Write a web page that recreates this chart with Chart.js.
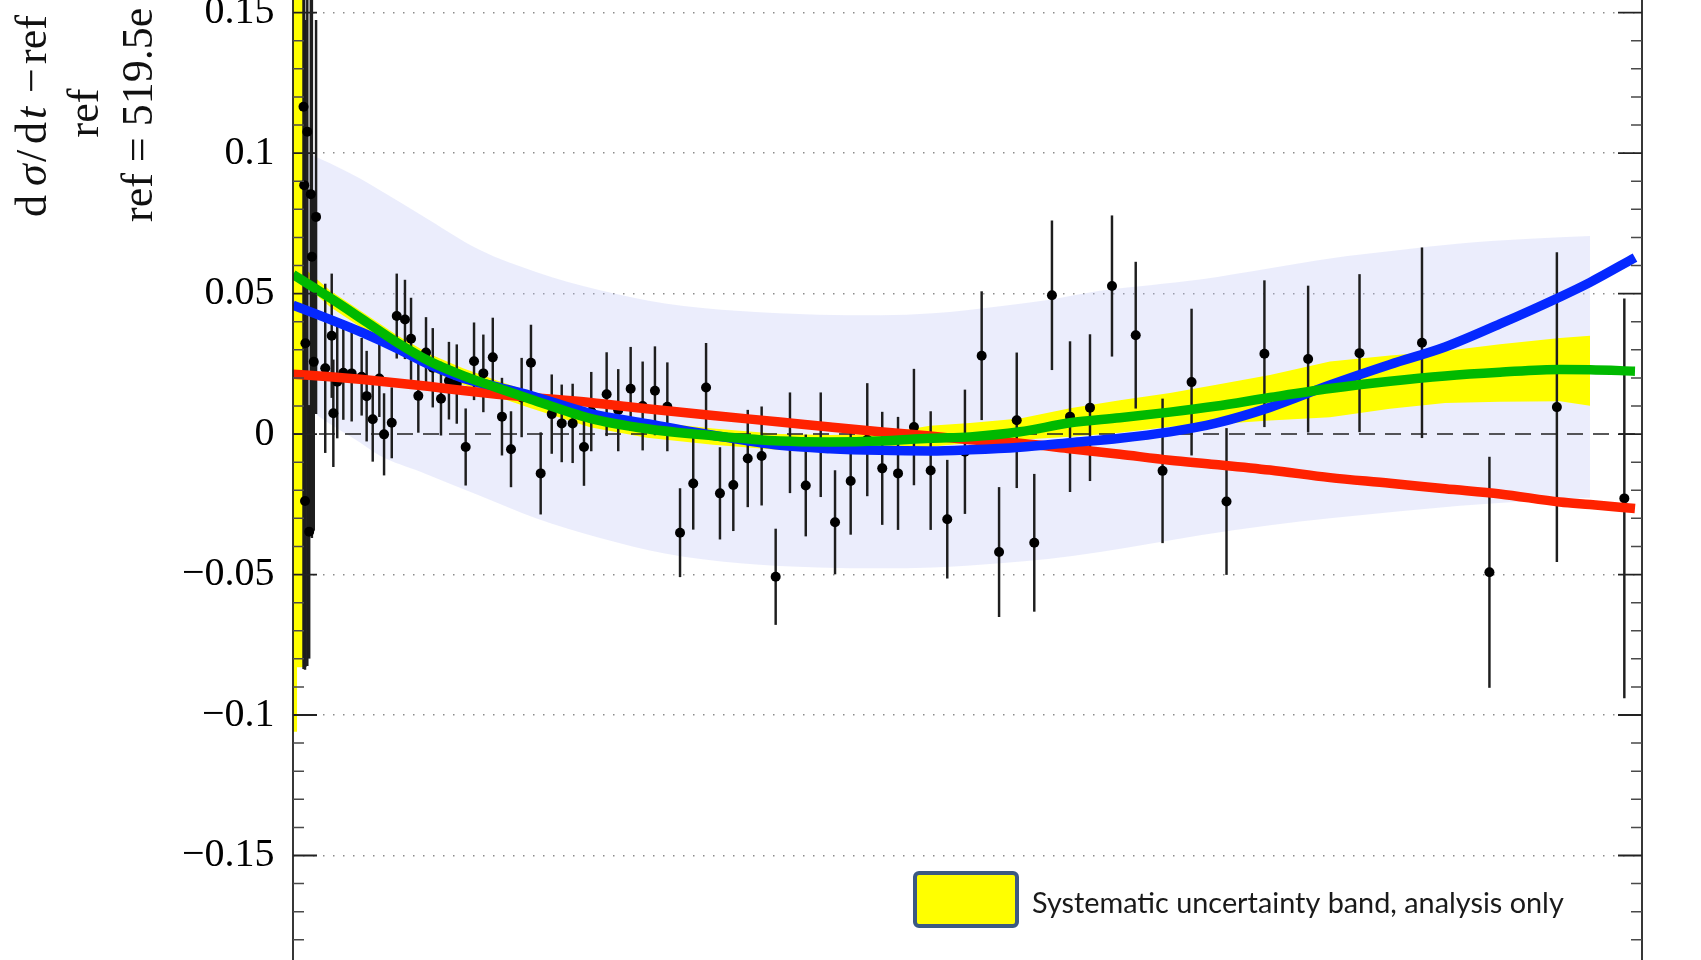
<!DOCTYPE html>
<html>
<head>
<meta charset="utf-8">
<title>dσ/dt relative to ref</title>
<script src="https://cdn.jsdelivr.net/npm/chart.js@4.4.1/dist/chart.umd.min.js"></script>
<style>
  html, body { margin: 0; padding: 0; background: #fff; overflow: hidden; }
  canvas { display: block; }
</style>
</head>
<body>
<canvas id="residuals" width="1701" height="960"></canvas>
<script>
// data points: x is position across the plotted range (0-100), y is the relative residual
const pointX = [0.78, 0.83, 0.89, 0.92, 1.06, 1.20, 1.32, 1.40, 1.54, 1.71,
  2.39, 2.87, 2.99, 3.28, 3.73, 4.35, 5.09, 5.46, 5.91, 6.40,
  6.75, 7.32, 7.69, 8.30, 8.75, 9.29, 9.86, 10.36, 10.97, 11.56,
  12.14, 12.80, 13.42, 14.11, 14.81, 15.49, 16.16, 16.95, 17.64, 18.36,
  19.18, 19.92, 20.73, 21.57, 22.11, 23.25, 24.11, 25.03, 25.92, 26.83,
  27.75, 28.69, 29.67, 30.62, 31.65, 32.64, 33.71, 34.74, 35.78, 36.84,
  38.01, 39.12, 40.18, 41.34, 42.57, 43.68, 44.85, 46.03, 47.27, 48.50,
  49.81, 51.05, 52.34, 53.65, 54.95, 56.26, 57.60, 59.08, 60.71, 62.47,
  64.46, 66.61, 69.20, 72.01, 75.25, 79.06, 83.69, 88.69, 93.69, 98.69]
const pointY = [0.1165, 0.0886, -0.0238, 0.0323, 0.1076, -0.0348, 0.0854, 0.0631, 0.0257, 0.0773,
  0.0234, 0.0350, 0.0074, 0.0186, 0.0218, 0.0216, 0.0204, 0.0135, 0.0053, 0.0198,
  -0.0001, 0.0040, 0.0420, 0.0408, 0.0339, 0.0136, 0.0290, 0.0236, 0.0126, 0.0190,
  0.0178, -0.0046, 0.0259, 0.0216, 0.0273, 0.0062, -0.0054, 0.0130, 0.0254, -0.0140,
  0.0071, 0.0038, 0.0038, -0.0046, 0.0080, 0.0142, 0.0085, 0.0161, 0.0100, 0.0154,
  0.0097, -0.0351, -0.0176, 0.0166, -0.0211, -0.0181, -0.0087, -0.0078, -0.0508, -0.0031,
  -0.0183, -0.0038, -0.0314, -0.0167, -0.0020, -0.0122, -0.0140, 0.0025, -0.0130, -0.0303,
  -0.0063, 0.0279, -0.0420, 0.0049, -0.0387, 0.0494, 0.0062, 0.0094, 0.0527, 0.0352,
  -0.0131, 0.0185, -0.0240, 0.0286, 0.0267, 0.0288, 0.0325, -0.0492, 0.0096, -0.0229]
const pointErr = [0.200, 0.170, 0.060, 0.115, 0.190, 0.045, 0.120, 0.100, 0.060, 0.070,
  0.030, 0.022, 0.019, 0.020, 0.0166, 0.017, 0.0137, 0.016, 0.015, 0.0136,
  0.0145, 0.0125, 0.015, 0.014, 0.0145, 0.013, 0.0125, 0.014, 0.013, 0.0137,
  0.014, 0.0136, 0.0137, 0.0137, 0.014, 0.0137, 0.0134, 0.014, 0.0134, 0.0145,
  0.014, 0.0137, 0.014, 0.0137, 0.014, 0.0148, 0.0145, 0.0148, 0.0157, 0.0157,
  0.0157, 0.0157, 0.0163, 0.0157, 0.0163, 0.0163, 0.0172, 0.0175, 0.017, 0.0178,
  0.018, 0.0185, 0.0184, 0.019, 0.020, 0.020, 0.020, 0.0206, 0.021, 0.021,
  0.022, 0.0228, 0.023, 0.024, 0.0244, 0.0265, 0.0267, 0.026, 0.025, 0.026,
  0.0256, 0.026, 0.026, 0.026, 0.026, 0.028, 0.0338, 0.041, 0.055, 0.071]

// fitted curves, sampled along the same x
const curveX = [0, 2.74, 5.19, 7.71, 10.16, 12.6, 15.12, 17.57, 22.02, 26.24,
  31.13, 36.1, 39.81, 43.51, 47.22, 50.19, 53.89, 57.6, 61.3, 65.01,
  68.35, 72.42, 76.87, 81.32, 85.4, 89.47, 93.92, 96.15, 99.48]
const redFit = [0.0213, 0.0204, 0.0194, 0.0182, 0.0169, 0.0155, 0.0142, 0.0131, 0.0112, 0.009,
  0.0066, 0.0043, 0.0025, 0.0008, -0.0007, -0.002, -0.0033, -0.0052, -0.0072, -0.0093,
  -0.0108, -0.0128, -0.0155, -0.0175, -0.0195, -0.0213, -0.0242, -0.0251, -0.0265]
const blueFit = [0.0459, 0.0408, 0.036, 0.0305, 0.0246, 0.0199, 0.0168, 0.0138, 0.0074, 0.0037,
  -0.0004, -0.004, -0.0052, -0.0058, -0.006, -0.0056, -0.0047, -0.0031, -0.0015, 0.0008,
  0.0038, 0.0095, 0.0175, 0.0248, 0.031, 0.0392, 0.0488, 0.054, 0.0628]
const greenFit = [0.0568, 0.0485, 0.0407, 0.0326, 0.0258, 0.0208, 0.0165, 0.0125, 0.0056, 0.0019,
  -0.0006, -0.0025, -0.0028, -0.0025, -0.0015, -0.001, 0.0008, 0.004, 0.0058, 0.0078,
  0.0099, 0.013, 0.0162, 0.0188, 0.0207, 0.022, 0.023, 0.0229, 0.0224]

// systematic band (analysis only)
const sysX = [0, 0.3, 0.3, 0.74, 0.74, 2.74, 5.19, 7.71, 10.16, 12.6,
  15.12, 17.57, 22.02, 26.24, 31.13, 36.1, 39.81, 43.51, 47.22, 50.19,
  53.89, 57.6, 61.3, 65.01, 68.35, 72.42, 76.87, 81.32, 85.4, 89.47,
  93.92, 96.15]
const sysUpper = [0.17, 0.17, 0.17, 0.17, 0.0594, 0.0511, 0.0433, 0.0352, 0.0284, 0.0234,
  0.0191, 0.0151, 0.0082, 0.0045, 0.002, 0.0, -0.0003, 0.0, 0.003, 0.0039,
  0.0055, 0.0092, 0.012, 0.0146, 0.0175, 0.021, 0.0258, 0.028, 0.0296, 0.032,
  0.0342, 0.035]
const sysLower = [-0.106, -0.106, -0.083, -0.083, 0.0536, 0.0453, 0.0375, 0.0294, 0.0226, 0.0176,
  0.0133, 0.0093, 0.0024, -0.0013, -0.0038, -0.0057, -0.0058, -0.0055, -0.0045, -0.0032,
  -0.002, -0.001, 0.0005, 0.0026, 0.0035, 0.0048, 0.006, 0.009, 0.0111, 0.0115,
  0.0117, 0.0101]

// wide light band
const envX = [1.0, 2.0, 4.97, 6.45, 9.49, 13.86, 18.01, 22.76, 27.57, 33.14,
  38.92, 43.51, 47.44, 52.41, 55.97, 59.82, 63.53, 67.24, 72.42, 76.87,
  82.06, 86.51, 91.7, 96.15]
const envUpper = [0.1, 0.098, 0.091, 0.0868, 0.078, 0.0655, 0.0577, 0.0512, 0.0465, 0.0438,
  0.0425, 0.0423, 0.043, 0.0455, 0.0477, 0.051, 0.053, 0.055, 0.059, 0.0625,
  0.0655, 0.0678, 0.0695, 0.0705]
const envLower = [0.01, 0.006, -0.003, -0.0077, -0.0135, -0.022, -0.03, -0.037, -0.0425, -0.046,
  -0.0475, -0.0478, -0.0475, -0.046, -0.0445, -0.042, -0.039, -0.036, -0.0325, -0.03,
  -0.0275, -0.0255, -0.0238, -0.0227]

const yTickValues = [-0.15, -0.1, -0.05, 0, 0.05, 0.1, 0.15]
const yMin = -0.1872
const yMax = 0.1545
const legendLabel = 'Systematic uncertainty band, analysis only'

const SERIF = '"Liberation Serif", "DejaVu Serif", serif'
const LEGEND_FONT = 'Lato, "Open Sans", sans-serif'

function xy(xs, ys) {
  return xs.map((x, i) => ({ x: x, y: ys[i] }))
}

function formatTick(value) {
  const r = Math.round(value * 100) / 100
  if (r === 0) return '0'
  return (r < 0 ? '\u2212' : '') + Math.abs(r)
}

// draw text rotated -90deg; pieces = [offset along the text, text, italic]
function drawRotated(ctx, pieces, baseX, startY, size, align) {
  ctx.save()
  ctx.translate(baseX, startY)
  ctx.rotate(-Math.PI / 2)
  ctx.textBaseline = 'alphabetic'
  ctx.textAlign = align || 'left'
  for (const [off, text, italic] of pieces) {
    ctx.font = (italic ? 'italic ' : '') + size + 'px ' + SERIF
    ctx.fillText(text, off, 0)
  }
  ctx.restore()
}

const axisFrame = {
  id: 'axisFrame',
  afterDatasetsDraw(chart) {
    const { ctx, chartArea: area, scales: { y } } = chart
    ctx.save()
    ctx.strokeStyle = '#222'
    ctx.lineWidth = 1.8
    ctx.beginPath()
    ctx.moveTo(area.left, area.top)
    ctx.lineTo(area.left, area.bottom)
    ctx.moveTo(area.right, area.top)
    ctx.lineTo(area.right, area.bottom)
    ctx.stroke()

    // inward ticks every 0.01, longer at 0.05
    for (let k = Math.ceil(y.min * 100); k <= Math.floor(y.max * 100); k++) {
      const py = y.getPixelForValue(k / 100)
      const major = k % 5 === 0
      const len = major ? 24 : 11
      ctx.strokeStyle = major ? '#222' : '#4a4a4a'
      ctx.lineWidth = major ? 1.8 : 1.5
      ctx.beginPath()
      ctx.moveTo(area.left, py)
      ctx.lineTo(area.left + len, py)
      ctx.moveTo(area.right, py)
      ctx.lineTo(area.right - len, py)
      ctx.stroke()
    }
    ctx.restore()
  },
  afterDraw(chart) {
    const { ctx, chartArea: area } = chart
    ctx.save()
    ctx.fillStyle = '#111'

    // y axis title (fraction, cropped at the top like the source figure)
    drawRotated(ctx, [
      [0, 'd', false], [31, '\u03c3', true], [55, '/', false], [73, 'd', false],
      [98, 't', true], [124, '\u2212', false], [153, 'ref', false]
    ], area.left - 247, 217, 44)
    drawRotated(ctx, [[0, 'ref', false]], area.left - 195, 113, 44, 'center')
    drawRotated(ctx, [[0, 'ref = 519.5e', false]], area.left - 141, 222, 44)

    // legend box for the systematic band
    const boxX = area.left + 622
    const boxY = area.bottom - 87
    ctx.beginPath()
    ctx.roundRect(boxX, boxY, 102, 53, 4)
    ctx.fillStyle = '#ffff00'
    ctx.fill()
    ctx.lineWidth = 4
    ctx.strokeStyle = '#3c5a82'
    ctx.stroke()

    const label = chart.data.datasets[2].label
    let size = 30
    ctx.font = size + 'px ' + LEGEND_FONT
    size = Math.max(20, Math.min(34, size * 532 / ctx.measureText(label).width))
    ctx.font = size + 'px ' + LEGEND_FONT
    ctx.fillStyle = '#1a1a1a'
    ctx.textBaseline = 'middle'
    ctx.textAlign = 'left'
    ctx.fillText(label, area.left + 739, area.bottom - 56)
    ctx.restore()
  }
}

const curveStyle = { type: 'line', pointRadius: 0, borderWidth: 9.5, cubicInterpolationMode: 'monotone', fill: false }

const datasets = [
  {
    type: 'line', label: 'envelope', data: xy(envX, envUpper), order: 10,
    borderWidth: 0, pointRadius: 0, cubicInterpolationMode: 'monotone',
    fill: '+1', backgroundColor: 'rgba(190, 196, 246, 0.30)'
  },
  {
    type: 'line', label: 'envelope low', data: xy(envX, envLower), order: 10,
    borderWidth: 0, pointRadius: 0, cubicInterpolationMode: 'monotone', fill: false
  },
  {
    type: 'line', label: legendLabel, data: xy(sysX, sysUpper), order: 9,
    borderWidth: 0, pointRadius: 0, tension: 0,
    fill: '+1', backgroundColor: '#ffff00'
  },
  {
    type: 'line', label: 'sys low', data: xy(sysX, sysLower), order: 9,
    borderWidth: 0, pointRadius: 0, tension: 0, fill: false
  },
  {
    type: 'line', label: 'zero', data: [{ x: 0, y: 0 }, { x: 100, y: 0 }], order: 8,
    borderColor: '#222', borderWidth: 1.6, borderDash: [16, 10], pointRadius: 0, fill: false
  },
  {
    type: 'bar', label: 'errors', order: 7,
    data: pointX.map((x, i) => ({ x: x, y: [pointY[i] - pointErr[i], pointY[i] + pointErr[i]] })),
    backgroundColor: '#1e1e1e', borderWidth: 0, barThickness: 1.8
  },
  {
    type: 'scatter', label: 'data', data: xy(pointX, pointY), order: 6,
    pointRadius: 5, pointBackgroundColor: '#000', pointBorderWidth: 0, showLine: false
  },
  Object.assign({ label: 'red', data: xy(curveX, redFit), order: 3, borderColor: '#ff2200' }, curveStyle),
  Object.assign({ label: 'blue', data: xy(curveX, blueFit), order: 2, borderColor: '#0528ff' }, curveStyle),
  Object.assign({ label: 'green', data: xy(curveX, greenFit), order: 1, borderColor: '#00b900' }, curveStyle)
]

new Chart(document.getElementById('residuals'), {
  type: 'scatter',
  data: { datasets: datasets },
  options: {
    responsive: false,
    devicePixelRatio: 1,
    animation: false,
    events: [],
    layout: { padding: { left: 0, right: 59, top: 0, bottom: 0 }, autoPadding: false },
    plugins: {
      legend: { display: false },
      tooltip: { enabled: false },
      title: { display: false }
    },
    scales: {
      // the bar dataset would otherwise switch on category-style offsets
      x: { type: 'linear', min: 0, max: 100, display: false, offset: false, grid: { offset: false } },
      y: {
        type: 'linear',
        position: 'left',
        min: yMin,
        max: yMax,
        bounds: 'data',
        afterBuildTicks: (scale) => {
          scale.ticks = yTickValues.map(v => ({ value: v }))
        },
        afterFit: (scale) => {
          // fixed axis width and no label overhang, the figure is cropped at top and bottom
          scale.width = 293
          scale.paddingTop = 0
          scale.paddingBottom = 0
        },
        border: { display: false, dash: [1.5, 8.5] },
        grid: {
          drawTicks: false,
          lineWidth: 1.5,
          color: (c) => (c.tick && c.tick.value === 0 ? 'rgba(0,0,0,0)' : '#8c8c8c')
        },
        ticks: {
          padding: 18.5,
          color: '#000',
          font: { family: SERIF, size: 40 },
          callback: (value) => formatTick(value)
        }
      }
    }
  },
  plugins: [axisFrame]
})
</script>
</body>
</html>
